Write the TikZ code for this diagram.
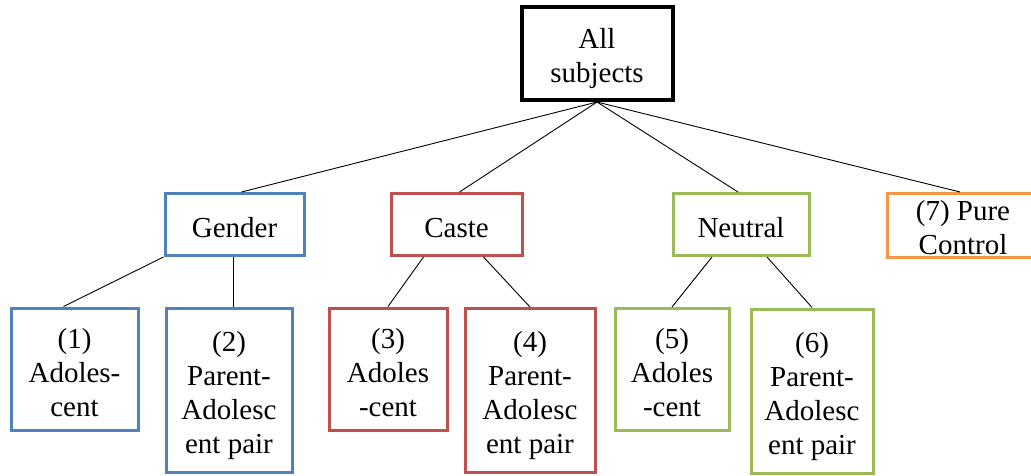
\documentclass[tikz,border=0pt]{standalone}
\usepackage{fontspec}
\setmainfont{Liberation Serif}
\usetikzlibrary{positioning, calc}
\definecolor{genderc}{RGB}{79,129,189}
\definecolor{castec}{RGB}{192,80,77}
\definecolor{neutralc}{RGB}{155,187,89}
\definecolor{purec}{RGB}{247,150,70}
\newcommand{\topgap}[1]{\rule{0pt}{#1pt}}

\begin{document}
\begin{tikzpicture}[x=1pt, y=-1pt, font=\fontsize{29}{34}\selectfont,
  box/.style={rectangle, draw, align=center, inner sep=0pt, line width=3pt},
  rootbox/.style={box, draw=black, line width=4pt},
  genderbox/.style={box, draw=genderc},
  castebox/.style={box, draw=castec},
  neutralbox/.style={box, draw=neutralc},
  purebox/.style={box, draw=purec},
  link/.style={draw=black, line width=0.9pt},
]
\useasboundingbox (0,0) rectangle (1031,475);
% ---------- root ----------
\node[rootbox, minimum width=151, minimum height=93] (all) at (597,53.5) {\topgap{31}All\\subjects};
% ---------- arms ----------
\node[genderbox,  minimum width=139, minimum height=62] (gender)  at (234.5,224.5) {\topgap{26}Gender};
\node[castebox,   minimum width=131, minimum height=62] (caste)   at (456.5,224.5) {\topgap{26}Caste};
\node[neutralbox, minimum width=136, minimum height=62] (neutral) at (741,224.5)   {\topgap{26}Neutral};
\node[purebox,    minimum width=152, minimum height=64] (pure)    at (963,225.5)   {\topgap{24}(7) Pure\\Control};
% ---------- sub-groups ----------
\node[genderbox,  minimum width=127, minimum height=122] (adol1) at (74.5,369)  {\topgap{27}(1)\\Adoles-\\cent};
\node[genderbox,  minimum width=126, minimum height=164] (pair2) at (229,390.5) {\topgap{31}(2)\\Parent-\\Adolesc\\ent pair};
\node[castebox,   minimum width=118, minimum height=122] (adol3) at (388,369)   {\topgap{27}(3)\\Adoles\\-cent};
\node[castebox,   minimum width=130, minimum height=164] (pair4) at (530,390.5) {\topgap{31}(4)\\Parent-\\Adolesc\\ent pair};
\node[neutralbox, minimum width=114, minimum height=122] (adol5) at (672,369.5) {\topgap{27}(5)\\Adoles\\-cent};
\node[neutralbox, minimum width=122, minimum height=164] (pair6) at (812,391)   {\topgap{31}(6)\\Parent-\\Adolesc\\ent pair};
% ---------- links ----------
\draw[link] (all.south) -- ([xshift=7]gender.north);
\draw[link] (all.south) -- ([xshift=3]caste.north);
\draw[link] (all.south) -- ([xshift=-3]neutral.north);
\draw[link] (all.south) -- ([xshift=-3]pure.north);
\draw[link] (gender.south west) -- ([xshift=-11]adol1.north);
\draw[link] ([xshift=-1.5]gender.south) -- ([xshift=4]pair2.north);
\draw[link] ([xshift=-33]caste.south) -- (adol3.north);
\draw[link] ([xshift=27]caste.south) -- (pair4.north);
\draw[link] ([xshift=-29]neutral.south) -- (adol5.north);
\draw[link] ([xshift=26]neutral.south) -- (pair6.north);
\end{tikzpicture}
\end{document}
